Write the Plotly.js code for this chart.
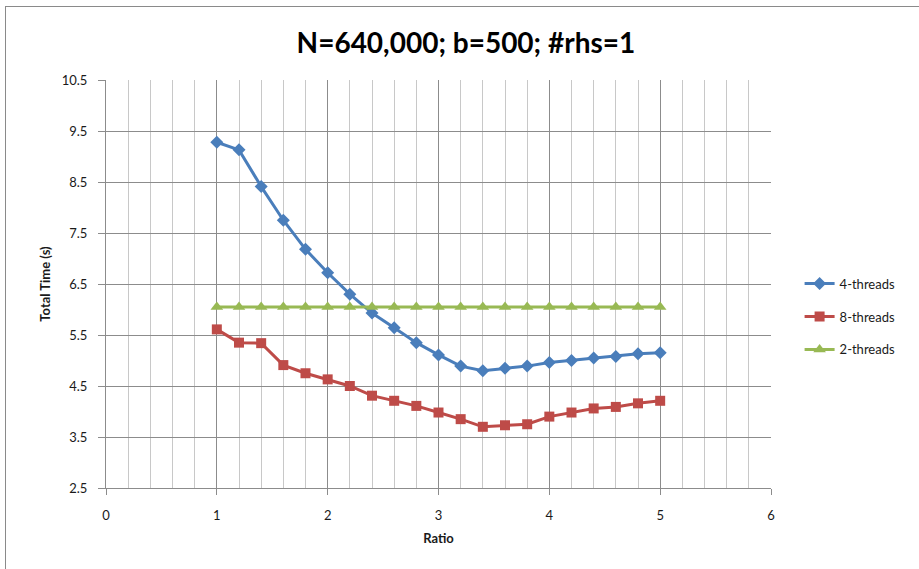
<!DOCTYPE html>
<html>
<head>
<meta charset="utf-8">
<script src="https://cdn.plot.ly/plotly-3.0.1.min.js"></script>
<style>
html,body{margin:0;padding:0;background:#fff;}
#wrap{position:relative;width:919px;height:569px;}
#chart{width:919px;height:569px;}
#frame{position:absolute;left:5px;top:6px;width:930px;height:580px;border:1px solid #8a8a8a;pointer-events:none;}
</style>
</head>
<body>
<div id="wrap"><div id="chart"></div><div id="frame"></div></div>
<script>
const ratio = [1,1.2,1.4,1.6,1.8,2,2.2,2.4,2.6,2.8,3,3.2,3.4,3.6,3.8,4,4.2,4.4,4.6,4.8,5];
const threads4 = [9.28,9.13,8.41,7.75,7.18,6.72,6.30,5.93,5.64,5.35,5.11,4.89,4.80,4.85,4.89,4.96,5.00,5.05,5.08,5.13,5.15];
const threads8 = [5.61,5.35,5.34,4.91,4.75,4.63,4.50,4.31,4.21,4.11,3.98,3.85,3.70,3.73,3.75,3.90,3.98,4.06,4.09,4.16,4.21];
const threads2 = [6.05,6.05,6.05,6.05,6.05,6.05,6.05,6.05,6.05,6.05,6.05,6.05,6.05,6.05,6.05,6.05,6.05,6.05,6.05,6.05,6.05];
const yTicks = [2.5,3.5,4.5,5.5,6.5,7.5,8.5,9.5,10.5];
const xTicks = [0,1,2,3,4,5,6];

const font = "Lato, 'Open Sans', sans-serif";
const traces = [
  {x: ratio, y: threads4, name: '4-threads', legendgroup: 'a', mode: 'lines+markers',
   line: {color: '#4a7ebb', width: 3}, marker: {symbol: 'diamond', size: 10, color: '#4a7ebb'}},
  {x: ratio, y: threads8, name: '8-threads', legendgroup: 'b', mode: 'lines+markers',
   line: {color: '#be4b48', width: 3}, marker: {symbol: 'square', size: 10, color: '#be4b48'}},
  {x: ratio, y: threads2, name: '2-threads', legendgroup: 'c', mode: 'lines+markers',
   line: {color: '#98b954', width: 3}, marker: {symbol: 'triangle-up', size: 11, color: '#98b954'}}
];
const layout = {
  width: 919, height: 569,
  margin: {l: 106, r: 148, t: 80, b: 81},
  paper_bgcolor: '#fff', plot_bgcolor: '#fff',
  font: {family: font, size: 13, color: '#1a1a1a'},
  title: {text: '<b>N=640,000; b=500; #rhs=1</b>', font: {size: 28, family: font, color: '#000'},
          x: 0.507, xref: 'container', y: 0.924, yref: 'container', xanchor: 'center', yanchor: 'middle'},
  xaxis: {range: [0, 6], tickvals: xTicks, ticktext: xTicks.map(String),
          showgrid: true, gridcolor: '#8c8c8c', gridwidth: 1,
          minor: {dtick: 0.2, tick0: 0, showgrid: true, gridcolor: '#c8c8c8', gridwidth: 1, ticks: ''},
          showline: true, linecolor: '#8c8c8c', linewidth: 1, ticks: 'outside', ticklen: 6, tickcolor: '#8c8c8c',
          ticklabelstandoff: 9,
          zeroline: false, tickfont: {size: 13, family: font},
          title: {text: '<b>Ratio</b>', font: {size: 13, family: font}, standoff: 12}},
  yaxis: {range: [2.5, 10.5], tickvals: yTicks, ticktext: yTicks.map(v => v.toFixed(1)),
          showgrid: true, gridcolor: '#8c8c8c', gridwidth: 1,
          showline: true, linecolor: '#8c8c8c', linewidth: 1, ticks: 'outside', ticklen: 7, tickcolor: '#8c8c8c',
          ticklabelstandoff: 8,
          zeroline: false, tickfont: {size: 13, family: font},
          title: {text: '<b>Total Time (s)</b>', font: {size: 13, family: font}, standoff: 8}},
  legend: {x: 1.043, y: 0.42, xanchor: 'left', yanchor: 'middle', font: {size: 13, family: font},
           tracegroupgap: 13, bgcolor: 'rgba(0,0,0,0)'},
  showlegend: true
};
Plotly.newPlot('chart', traces, layout, {displayModeBar: false, staticPlot: true});
</script>
</body>
</html>
